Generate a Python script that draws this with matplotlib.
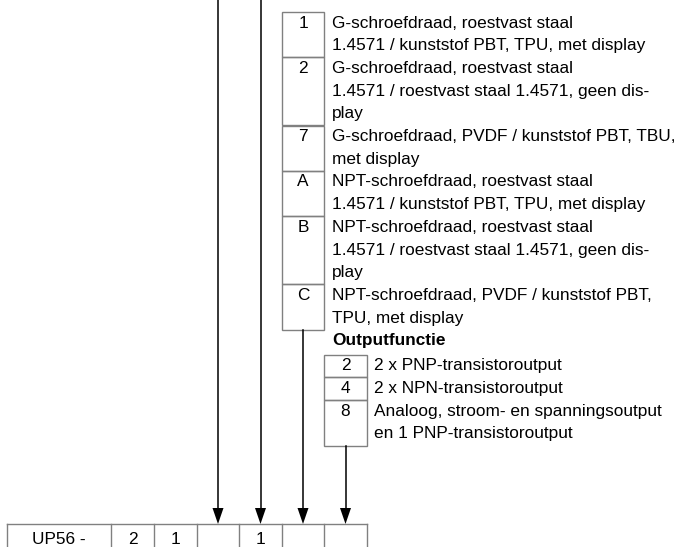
import matplotlib.pyplot as plt
from matplotlib.patches import Rectangle

# type code data
base_code = ["UP56 -", "2", "1", "", "1", "", ""]

conn_codes = ["1", "2", "7", "A", "B", "C"]
conn_text = [
    ["G-schroefdraad, roestvast staal", "1.4571 / kunststof PBT, TPU, met display"],
    ["G-schroefdraad, roestvast staal", "1.4571 / roestvast staal 1.4571, geen dis-", "play"],
    ["G-schroefdraad, PVDF / kunststof PBT, TBU,", "met display"],
    ["NPT-schroefdraad, roestvast staal", "1.4571 / kunststof PBT, TPU, met display"],
    ["NPT-schroefdraad, roestvast staal", "1.4571 / roestvast staal 1.4571, geen dis-", "play"],
    ["NPT-schroefdraad, PVDF / kunststof PBT,", "TPU, met display"],
]

out_title = "Outputfunctie"
out_codes = ["2", "4", "8"]
out_text = [
    ["2 x PNP-transistoroutput"],
    ["2 x NPN-transistoroutput"],
    ["Analoog, stroom- en spanningsoutput", "en 1 PNP-transistoroutput"],
]

# layout (pixel units)
W, H = 677, 547
col_edges = [7, 111, 154, 197, 239, 282, 324, 367]
box_top = 524
line_h = 22.7
grey = "#808080"
fs = 12.4
font = "Liberation Sans"


def arrow(ax, x, y0, y1):
    ax.plot([x, x], [y0, y1 - 14], color="black", lw=1.1)
    ax.fill([x - 5.5, x + 5.5, x], [y1 - 16, y1 - 16, y1], color="black", lw=0)


def table(ax, codes, texts, x0, x1, y0, tx):
    y = y0
    for code, lines in zip(codes, texts):
        h = line_h * len(lines)
        ax.add_patch(Rectangle((x0, y), x1 - x0, h, fill=False, ec=grey, lw=1))
        ax.text((x0 + x1) / 2, y + 11, code, ha="center", va="center",
                fontsize=fs, family=font)
        for i, t in enumerate(lines):
            ax.text(tx, y + 11 + i * line_h, t, ha="left", va="center",
                    fontsize=fs, family=font)
        y += h
    return y


def main():
    fig = plt.figure(figsize=(W / 100, H / 100), dpi=100)
    ax = fig.add_axes([0, 0, 1, 1])
    ax.set_xlim(0, W)
    ax.set_ylim(H, 0)
    ax.axis("off")

    centers = [(a + b) / 2 for a, b in zip(col_edges[:-1], col_edges[1:])]

    # upper table (connection / material)
    bottom1 = table(ax, conn_codes, conn_text, col_edges[5], col_edges[6], 12, 332)

    ax.text(332, bottom1 + 11, out_title, ha="left", va="center",
            fontsize=fs, family=font, fontweight="bold")

    # lower table (output)
    bottom2 = table(ax, out_codes, out_text, col_edges[6], col_edges[7],
                    bottom1 + 25, 374)

    # arrows to the code box
    arrow(ax, centers[3], 0, box_top)
    arrow(ax, centers[4], 0, box_top)
    arrow(ax, centers[5], bottom1, box_top)
    arrow(ax, centers[6], bottom2, box_top)

    # type code box
    ax.plot([col_edges[0], col_edges[-1]], [box_top, box_top], color=grey, lw=1)
    for x in col_edges:
        ax.plot([x, x], [box_top, H + 5], color=grey, lw=1)
    for c, t in zip(centers, base_code):
        ax.text(c, box_top + 15, t, ha="center", va="center",
                fontsize=fs, family=font)

    fig.savefig("out.png", dpi=100)


if __name__ == "__main__":
    main()
